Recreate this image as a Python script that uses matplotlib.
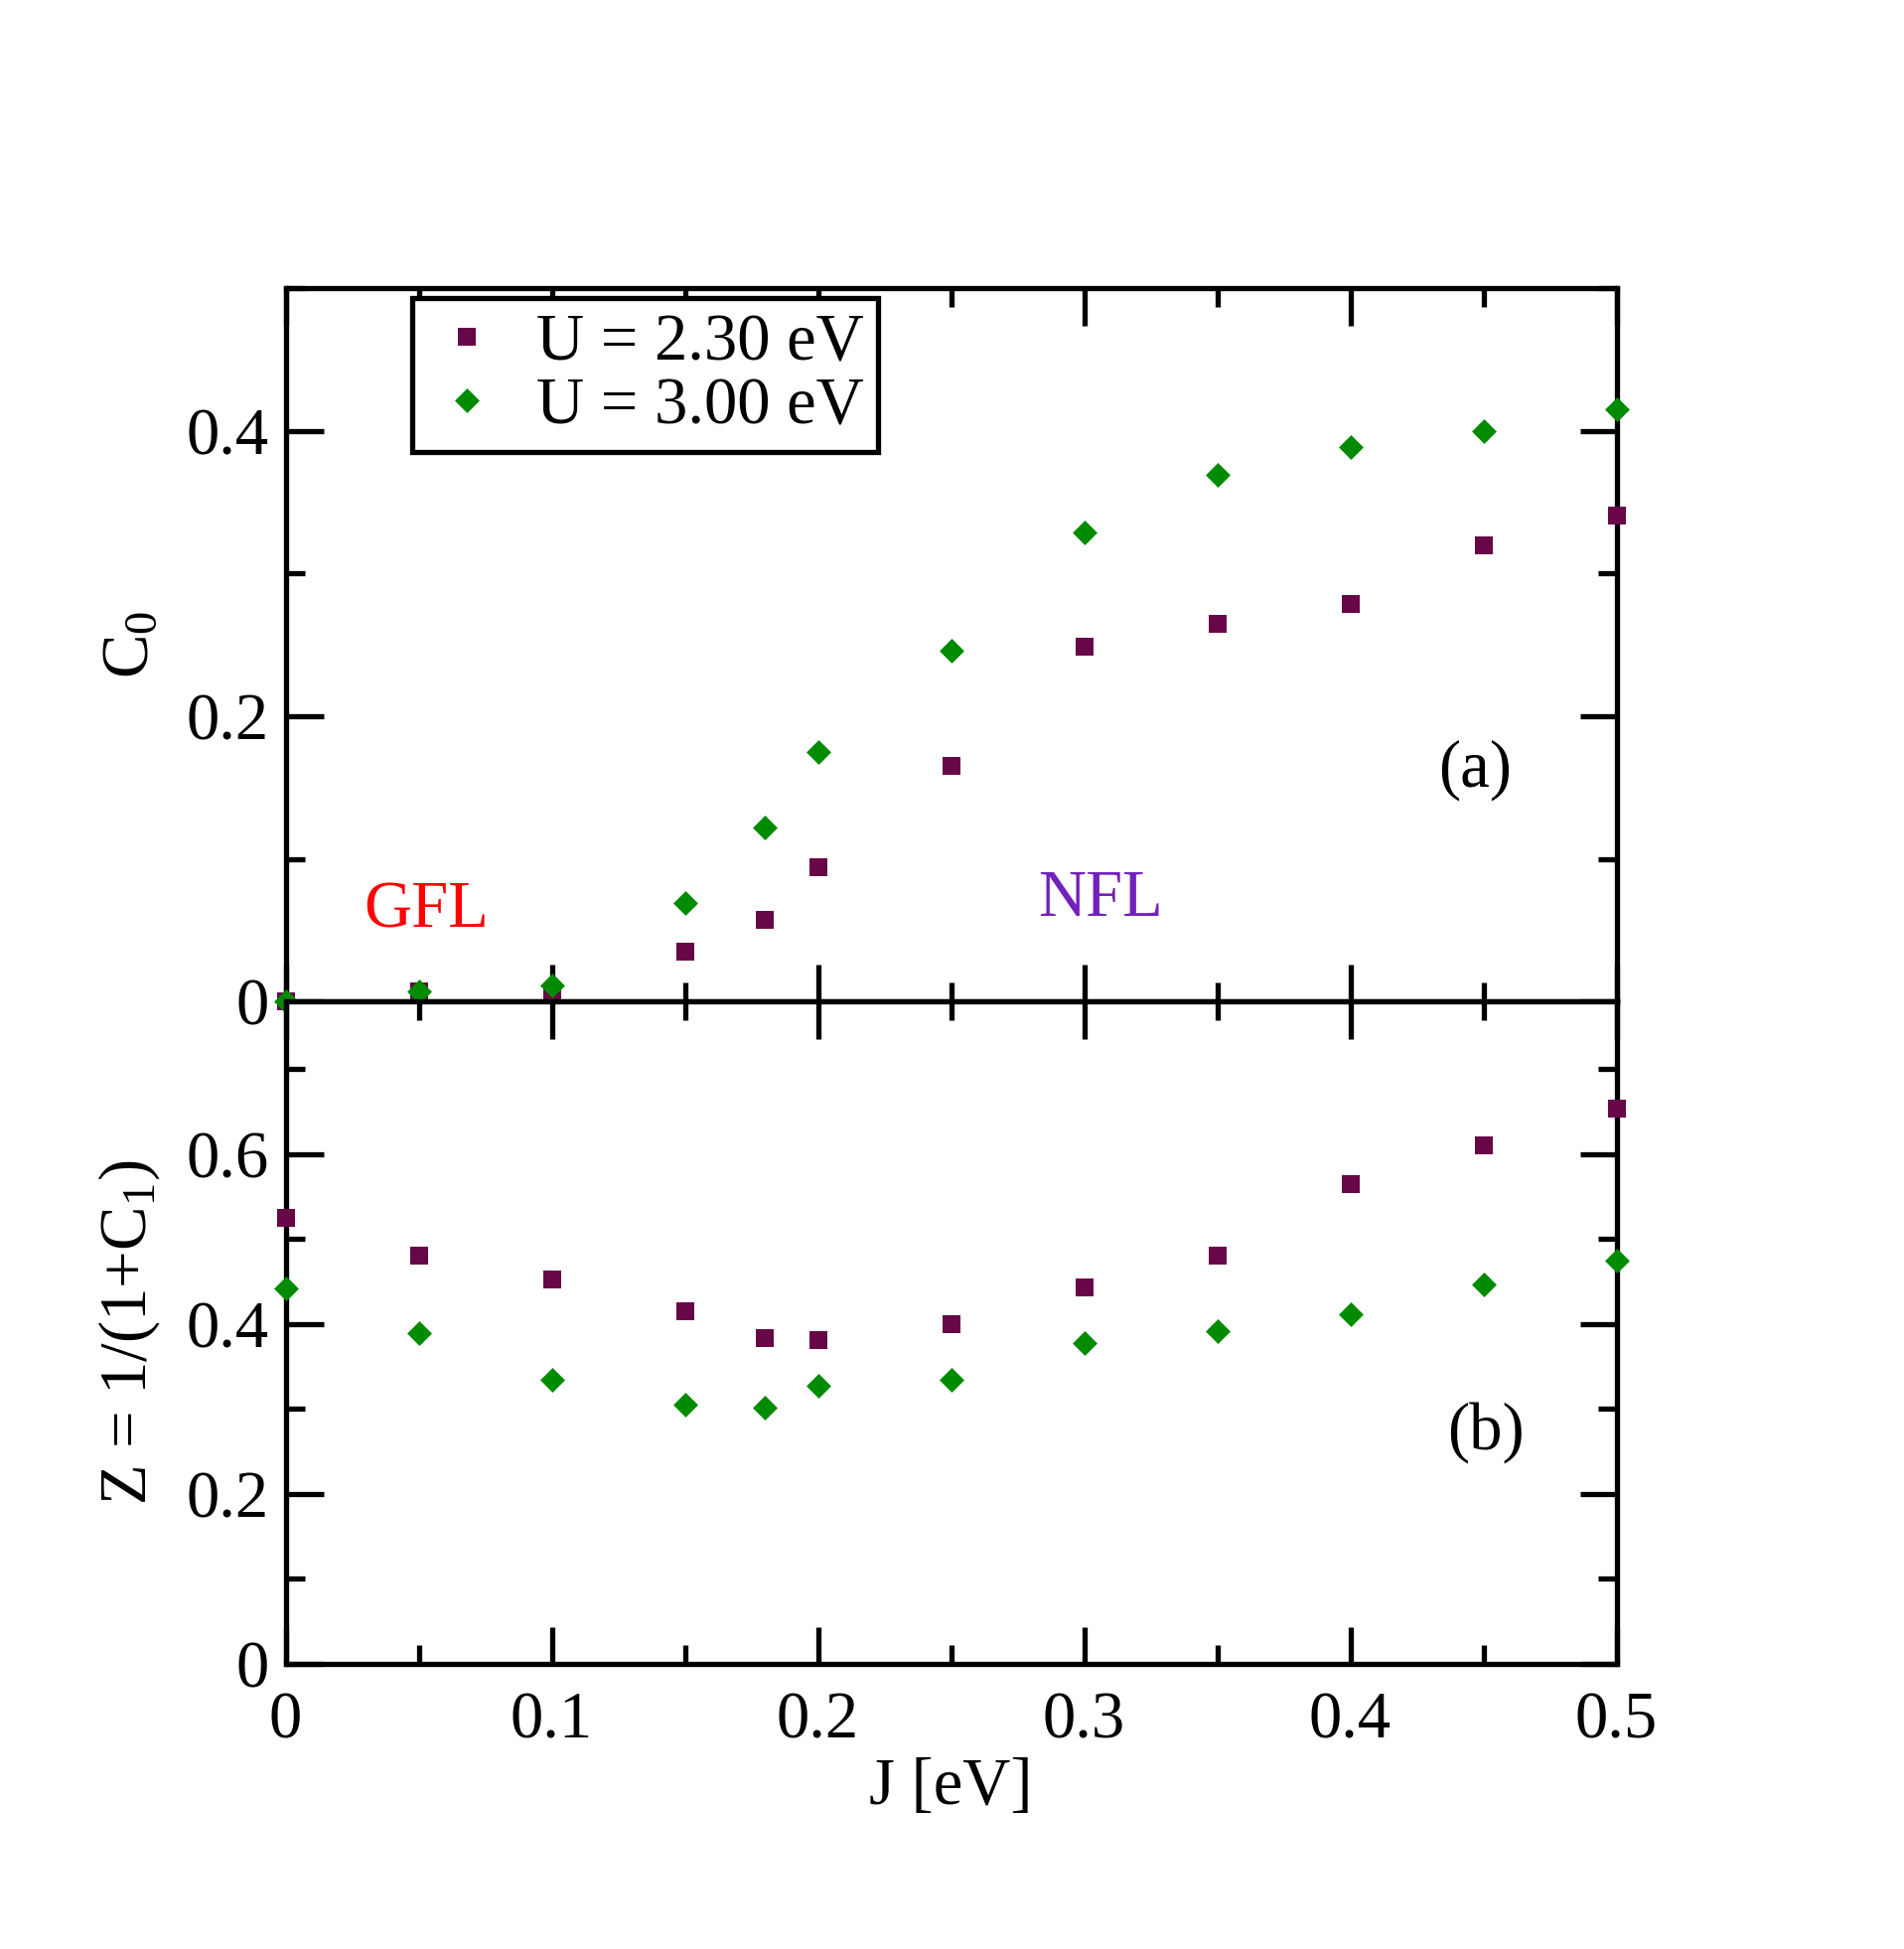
import matplotlib
matplotlib.use("Agg")
import matplotlib.pyplot as plt
from matplotlib.ticker import MultipleLocator, FuncFormatter

plt.rcParams['font.family'] = ['Liberation Serif', 'DejaVu Serif']
plt.rcParams['mathtext.fontset'] = 'custom'
plt.rcParams['mathtext.rm'] = 'Liberation Serif'
plt.rcParams['mathtext.it'] = 'Liberation Serif:italic'

J = [0.0, 0.05, 0.1, 0.15, 0.18, 0.2, 0.25, 0.3, 0.35, 0.4, 0.45, 0.5]
C0_U230 = [0.0, 0.007, 0.005, 0.035, 0.0575, 0.094, 0.165, 0.249, 0.265, 0.279, 0.320, 0.341]
C0_U300 = [0.0, 0.007, 0.011, 0.069, 0.122, 0.175, 0.246, 0.329, 0.369, 0.389, 0.400, 0.415]
Z_U230 = [0.525, 0.480, 0.453, 0.415, 0.383, 0.381, 0.400, 0.443, 0.481, 0.565, 0.610, 0.654]
Z_U300 = [0.442, 0.389, 0.334, 0.305, 0.302, 0.327, 0.334, 0.378, 0.392, 0.411, 0.447, 0.475]
labels = ['U = 2.30 eV', 'U = 3.00 eV']

maroon = '#670748'
green = '#008b00'
FS = 48
LW = 3.8

fig = plt.figure(figsize=(19.17, 19.62), dpi=100)
gs = fig.add_gridspec(2, 1, height_ratios=[574, 533], hspace=0.0,
                      left=0.150, right=0.849, top=0.852, bottom=0.1465)
ax1 = fig.add_subplot(gs[0])
ax2 = fig.add_subplot(gs[1], sharex=ax1)

for ax, y1, y2 in ((ax1, C0_U230, C0_U300), (ax2, Z_U230, Z_U300)):
    ax.plot(J, y1, linestyle='none', marker='s',
            markersize=13, color=maroon, markeredgewidth=0, label=labels[0], clip_on=False, zorder=3)
    ax.plot(J, y2, linestyle='none', marker='D',
            markersize=10.5, color=green, markeredgecolor=green, markeredgewidth=2.5,
            label=labels[1], clip_on=False, zorder=4)
    for s in ax.spines.values():
        s.set_linewidth(LW)
    ax.tick_params(which='both', direction='in', top=True, right=True, width=LW,
                   labelsize=FS)
    ax.tick_params(axis='y', pad=12)
    ax.tick_params(axis='x', pad=20)
    ax.tick_params(which='major', length=27)
    ax.tick_params(which='minor', length=14)
    ax.xaxis.set_major_locator(MultipleLocator(0.1))
    ax.xaxis.set_minor_locator(MultipleLocator(0.05))
    ax.yaxis.set_major_locator(MultipleLocator(0.2))
    ax.yaxis.set_minor_locator(MultipleLocator(0.1))
    ax.yaxis.set_major_formatter(FuncFormatter(lambda v, p: '0' if abs(v) < 1e-9 else f'{v:g}'))

ax1.set_xlim(0, 0.5)
ax1.set_ylim(0, 0.5)
ax2.set_ylim(0, 0.78)
ax2.xaxis.set_major_formatter(FuncFormatter(lambda v, p: '0' if abs(v) < 1e-9 else f'{v:g}'))
plt.setp(ax1.get_xticklabels(), visible=False)

ax1.set_ylabel(r'C$_0$', fontsize=FS, labelpad=18)
ax2.set_ylabel(r'Z = 1/(1+C$_1$)', fontsize=FS, labelpad=18)
ax2.set_xlabel('J [eV]', fontsize=FS, labelpad=4)

ax1.text(0.0528, 0.0636, 'GFL', color='#ff0000', fontsize=FS, ha='center', va='center')
ax1.text(0.306, 0.0714, 'NFL', color='#7221bc', fontsize=FS, ha='center', va='center')
ax1.text(0.447, 0.162, '(a)', color='black', fontsize=FS, ha='center', va='center')
ax2.text(0.451, 0.272, '(b)', color='black', fontsize=FS, ha='center', va='center')

leg = ax1.legend(loc='upper left', bbox_to_anchor=(0.095, 0.986), fontsize=FS,
                 frameon=True, fancybox=False, edgecolor='black', framealpha=1,
                 handlelength=1.2, handletextpad=0.45, borderpad=0.22, labelspacing=0.05,
                 borderaxespad=0.0)
leg.get_frame().set_linewidth(LW)

fig.savefig('out.png', dpi=100)
